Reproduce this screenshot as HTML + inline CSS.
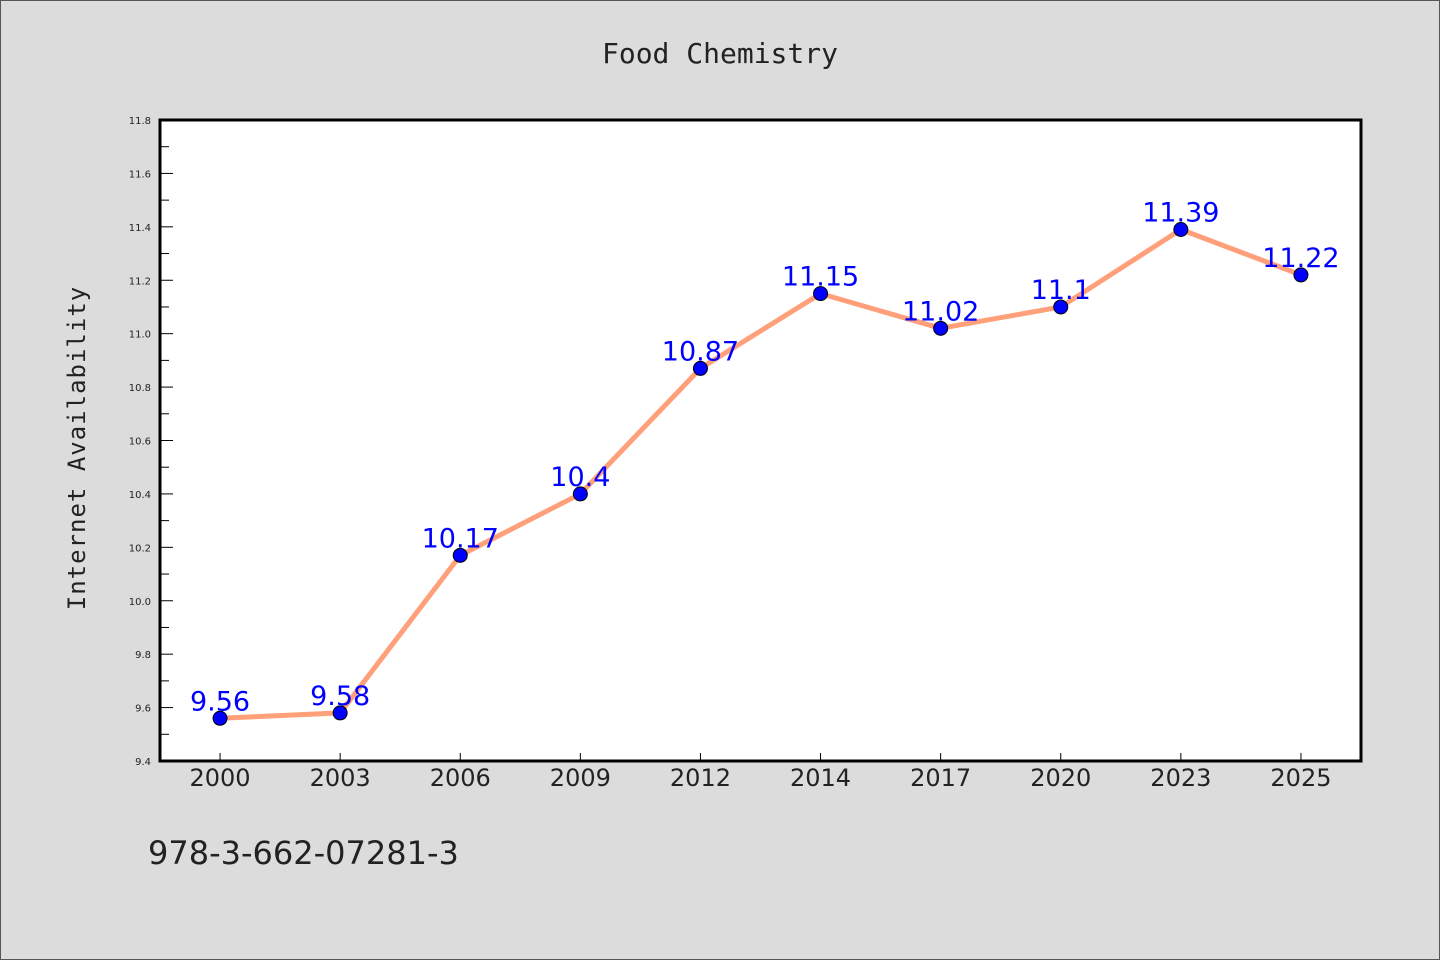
<!DOCTYPE html>
<html><head><meta charset="utf-8"><style>
html,body{margin:0;padding:0;background:#dcdcdc;}
svg{display:block;}
</style></head><body>
<svg width="1440" height="960" xmlns="http://www.w3.org/2000/svg">
<rect x="0.5" y="0.5" width="1439" height="959" fill="#dcdcdc" stroke="#555"/>
<text x="720" y="63" text-anchor="middle" font-family="'DejaVu Sans Mono','WenQuanYi Zen Hei',monospace" font-size="28" fill="#222">Food Chemistry</text>
<rect x="160" y="120" width="1201" height="641" fill="#fff"/>
<g id="axes"></g>
<g id="marks"></g>
<rect x="160" y="120" width="1201" height="641" fill="none" stroke="#000" stroke-width="3"/>
<text transform="translate(85,448) rotate(-90)" text-anchor="middle" font-family="'DejaVu Sans Mono','WenQuanYi Zen Hei',monospace" font-size="24" fill="#222" letter-spacing="1">Internet Availability</text>
<text x="148" y="864" font-family="'WenQuanYi Zen Hei','DejaVu Sans',sans-serif" font-size="32" fill="#222">978-3-662-07281-3</text>
</svg>
<script>
const categories=["2000","2003","2006","2009","2012","2014","2017","2020","2023","2025"];
const values=[9.56,9.58,10.17,10.4,10.87,11.15,11.02,11.1,11.39,11.22];
const yTicks=["9.4","9.6","9.8","10.0","10.2","10.4","10.6","10.8","11.0","11.2","11.4","11.6","11.8"];
const yMin=9.4,yMax=11.8;
const NS="http://www.w3.org/2000/svg";
const L=160,R=1361,T=120,B=761;
function y(v){return B-(v-yMin)/(yMax-yMin)*(B-T);}
function x(i){const bw=(R-L)/categories.length;return L+bw*(i+0.5);}
const axes=document.getElementById('axes'),marks=document.getElementById('marks');
function mk(tag,attrs,parent){const e=document.createElementNS(NS,tag);for(const k in attrs)e.setAttribute(k,attrs[k]);parent.appendChild(e);return e;}
yTicks.forEach(t=>{const v=parseFloat(t);const yy=y(v);
 const ln=mk('line',{x1:L,x2:L+13,y1:yy,y2:yy,stroke:'#000','stroke-width':1},axes);
 
 
 const tx=mk('text',{x:L-9,y:yy+4,'text-anchor':'end','font-family':"'DejaVu Sans',sans-serif",'font-size':10,fill:'#222'},axes);
 tx.textContent=t;
 
 
 if(v<yMax-0.01){const m=y(v+0.1);const ml=mk('line',{x1:L,x2:L+9,y1:m,y2:m,stroke:'#000','stroke-width':1},axes);
 
 }
});
categories.forEach((c,i)=>{const xx=x(i);
 const ln=mk('line',{x1:xx,x2:xx,y1:B,y2:B-8,stroke:'#000','stroke-width':1},axes);
 
 
 const tx=mk('text',{x:xx,y:B+25,'text-anchor':'middle','font-family':"'WenQuanYi Zen Hei','DejaVu Sans',sans-serif",'font-size':24,fill:'#222'},axes);
 tx.textContent=c;
 
 
});
const pts=values.map((v,i)=>x(i)+','+y(v)).join(' ');
const pl=mk('polyline',{points:pts,fill:'none',stroke:'#ffa07a','stroke-width':5,'stroke-linejoin':'round'},marks);


values.forEach((v,i)=>{
 const c=mk('circle',{cx:x(i),cy:y(v),r:7,fill:'#0000ff',stroke:'#000','stroke-width':1},marks);
 
 
 const t=mk('text',{x:x(i),y:y(v)-8,'text-anchor':'middle','font-family':"'WenQuanYi Zen Hei','DejaVu Sans',sans-serif",'font-size':27,fill:'#0000ff'},marks);
 t.textContent=String(v);
 
 
});
</script>
</body></html>
